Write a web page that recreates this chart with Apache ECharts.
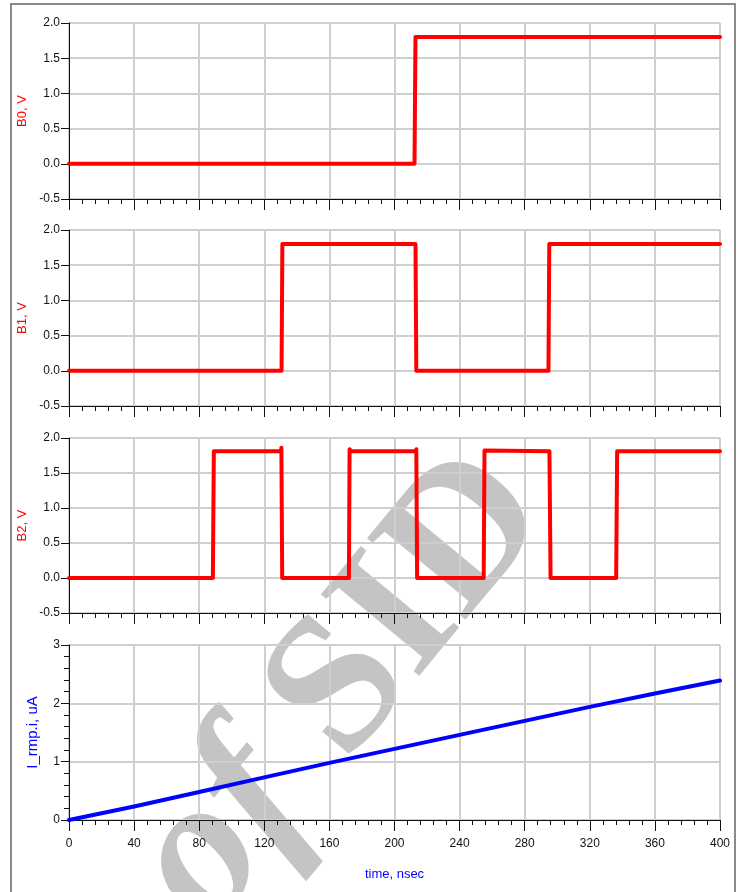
<!DOCTYPE html>
<html>
<head>
<meta charset="utf-8">
<script src="https://cdn.jsdelivr.net/npm/echarts@6/dist/echarts.min.js"></script>
<style>
  html, body { margin: 0; padding: 0; background: #fff; }
  #chart { width: 737px; height: 892px; }
</style>
</head>
<body>
<div id="chart"></div>
<script>
// Time axis (nsec)
const timeTicks = [0, 40, 80, 120, 160, 200, 240, 280, 320, 360, 400];

// Counter bit B0 (V)
const b0Time = [0, 212.3, 212.9, 400];
const b0Volt = [0, 0, 1.8, 1.8];

// Counter bit B1 (V)
const b1Time = [0, 130.6, 131.1, 212.9, 213.4, 294.6, 295.1, 400];
const b1Volt = [0, 0, 1.8, 1.8, 0, 0, 1.8, 1.8];

// Counter bit B2 (V)
const b2Time = [0, 88.4, 89.0, 130.3, 130.5, 131.0, 172.0, 172.4, 173.5, 213.2, 213.4, 213.9,
                254.8, 255.3, 295.2, 295.4, 295.9, 336.2, 336.8, 400];
const b2Volt = [0, 0, 1.81, 1.81, 1.86, 0, 0, 1.84, 1.81, 1.81, 1.84, 0,
                0, 1.82, 1.81, 1.83, 0, 0, 1.81, 1.81];

// Ramp current I_rmp.i (uA)
const rampTime = [0, 40, 80, 120, 160, 200, 240, 280, 320, 360, 400];
const rampCurr = [0, 0.23, 0.48, 0.73, 0.98, 1.22, 1.46, 1.70, 1.94, 2.17, 2.39];

const zip = (t, v) => t.map((x, i) => [x, v[i]]);

const FONT = "'Liberation Sans Narrow', 'Arial Narrow', 'Liberation Sans', sans-serif";
const GRID_LEFT = 69, GRID_W = 651;
const panels = [
  { top: 23,  height: 176, name: 'B0, V', color: '#ff0000', data: zip(b0Time, b0Volt) },
  { top: 230, height: 176, name: 'B1, V', color: '#ff0000', data: zip(b1Time, b1Volt) },
  { top: 438, height: 175, name: 'B2, V', color: '#ff0000', data: zip(b2Time, b2Volt) },
  { top: 645, height: 175, name: 'I_rmp.i, uA', color: '#0000ff', data: zip(rampTime, rampCurr) }
];

const grid = [], xAxis = [], yAxis = [], series = [];
panels.forEach((p, i) => {
  const last = i === panels.length - 1;
  grid.push({
    left: GRID_LEFT, top: p.top, width: GRID_W, height: p.height,
    show: true, borderColor: '#222', borderWidth: 1, backgroundColor: 'transparent'
  });
  xAxis.push({
    gridIndex: i, type: 'value', min: 0, max: 400, interval: 40,
    axisLine: { show: true, onZero: false, lineStyle: { color: '#111', width: 1 } },
    axisTick: { show: true, inside: false, length: 11, lineStyle: { color: '#111' } },
    minorTick: { show: true, splitNumber: 5, length: 5, lineStyle: { color: '#111' } },
    splitLine: { show: true, lineStyle: { color: '#cfcfcf', width: 2 } },
    axisLabel: {
      show: last, margin: 18, color: '#111', fontSize: 12, fontFamily: FONT,
      customValues: timeTicks
    },
    name: last ? 'time, nsec' : '',
    nameLocation: 'middle', nameGap: 48,
    nameTextStyle: { color: '#0000ff', fontSize: 13, fontFamily: FONT }
  });
  yAxis.push({
    gridIndex: i, type: 'value',
    min: last ? 0 : -0.5, max: last ? 3 : 2.0, interval: last ? 1 : 0.5,
    axisLine: { show: true, onZero: false, lineStyle: { color: '#111', width: 1 } },
    axisTick: { show: true, inside: false, length: 8, lineStyle: { color: '#111' } },
    minorTick: { show: last, splitNumber: 5, length: 5, lineStyle: { color: '#111' } },
    splitLine: { show: true, lineStyle: { color: '#cfcfcf', width: 2 } },
    axisLabel: {
      margin: 9, color: '#111', fontSize: 12, fontFamily: FONT,
      formatter: v => last ? String(Math.round(v)) : v.toFixed(1)
    },
    name: p.name, nameLocation: 'middle', nameRotate: 90,
    nameGap: last ? 29 : 40,
    nameTextStyle: {
      color: p.color, fontSize: last ? 15 : 13,
      fontFamily: "'Liberation Sans', sans-serif"
    }
  });
  series.push({
    type: 'line', xAxisIndex: i, yAxisIndex: i, data: p.data,
    showSymbol: false, animation: false, z: 3,
    lineStyle: { color: p.color, width: 4, cap: 'round', join: 'round' }
  });
});

const chart = echarts.init(document.getElementById('chart'), null, { renderer: 'canvas' });
chart.setOption({
  backgroundColor: '#ffffff',
  animation: false,
  grid, xAxis, yAxis, series,
  graphic: [
    {
      type: 'rect', z: -2, silent: true,
      shape: { x: 11, y: 4, width: 724, height: 900 },
      style: { fill: 'none', stroke: '#8a8a8a', lineWidth: 2 }
    },
    {
      type: 'text', z: -1, silent: true,
      x: 342, y: 690, rotation: 0.88,
      style: {
        text: '{i|of} SID',
        rich: { i: { fontStyle: 'italic', fontWeight: 'bold', fontFamily: "'Liberation Serif', serif", fontSize: 200, fill: '#c4c4c4' } },
        font: "bold 195px 'Liberation Serif', serif",
        fill: '#c4c4c4', align: 'center', verticalAlign: 'middle'
      }
    }
  ]
});
</script>
</body>
</html>
